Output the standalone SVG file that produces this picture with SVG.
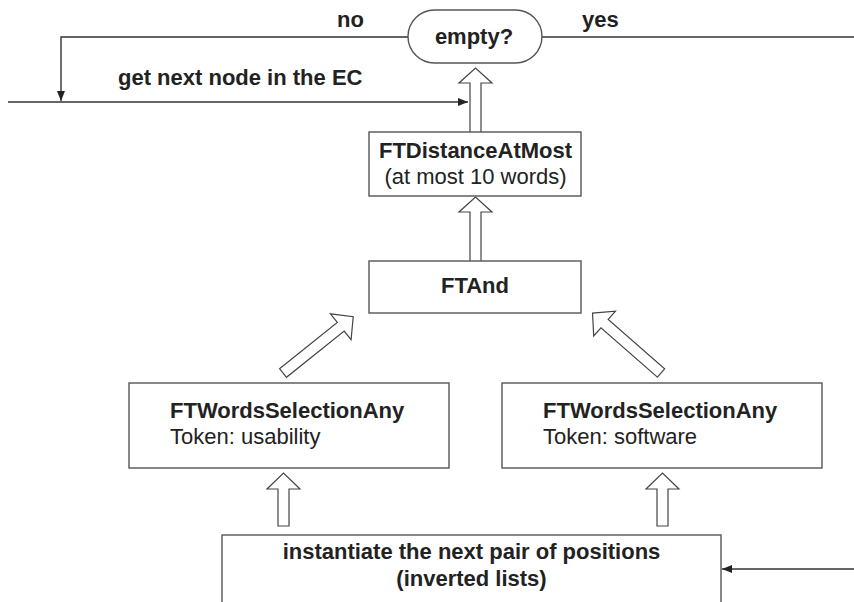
<svg xmlns="http://www.w3.org/2000/svg" width="854" height="602" viewBox="0 0 854 602">
<style>
text{font-family:"Liberation Sans",Arial,sans-serif;font-size:22px;fill:#222}
.b{font-weight:bold}
.m{text-anchor:middle}
.box{fill:#fff;stroke:#555;stroke-width:1.4}
.ln{fill:none;stroke:#333;stroke-width:1.4}
.blk{fill:#fff;stroke:#444;stroke-width:1.2;stroke-linejoin:miter}
</style>
<defs>
<marker id="ah" viewBox="0 0 10 8" refX="10" refY="4" markerWidth="10" markerHeight="8" markerUnits="userSpaceOnUse" orient="auto">
<path d="M0,0 L10,4 L0,8 z" fill="#222"/>
</marker>
</defs>
<rect width="854" height="602" fill="#fff"/>
<g id="connectors">
<polyline class="ln" points="408,37 61,37 61,101" marker-end="url(#ah)"/>
<line class="ln" x1="8" y1="102" x2="468" y2="102" marker-end="url(#ah)"/>
<line class="ln" x1="542" y1="37" x2="854" y2="37"/>
<line class="ln" x1="854" y1="569" x2="722" y2="569" marker-end="url(#ah)"/>
<path class="blk" d="M470,132 V83 H459 L475.5,68 L492,83 H481 V132"/>
<path class="blk" d="M470,261 V212 H459 L475.5,197 L492,212 H481 V261"/>
<path class="blk" transform="translate(283,373) rotate(-38.7)" d="M0,-5.5 H74 V-16.5 L90,0 L74,16.5 V5.5 H0 Z"/>
<path class="blk" transform="translate(661,373) rotate(-138.8)" d="M0,-5.5 H75 V-16.5 L91,0 L75,16.5 V5.5 H0 Z"/>
<path class="blk" d="M278,526 V489 H267 L283.5,473 L300,489 H289 V526 Z"/>
<path class="blk" d="M657,526 V489 H646 L662.5,473 L679,489 H668 V526 Z"/>
</g>
<g id="lbl-no"><text class="b" x="337" y="27">no</text></g>
<g id="lbl-yes"><text class="b" x="582" y="27">yes</text></g>
<g id="lbl-next"><text class="b" x="118" y="85">get next node in the EC</text></g>
<g id="empty">
<rect class="box" x="408" y="10" width="134" height="53" rx="26.5"/>
<text class="b m" x="474" y="44">empty?</text>
</g>
<g id="distance">
<rect class="box" x="369" y="132" width="212" height="64"/>
<text class="b m" x="475.5" y="158">FTDistanceAtMost</text>
<text class="m" x="475.5" y="184">(at most 10 words)</text>
</g>
<g id="and">
<rect class="box" x="369" y="261" width="212" height="52"/>
<text class="b m" x="475" y="293">FTAnd</text>
</g>
<g id="ws1">
<rect class="box" x="129" y="383" width="320" height="85"/>
<text class="b" x="170" y="418">FTWordsSelectionAny</text>
<text x="170" y="444">Token: usability</text>
</g>
<g id="ws2">
<rect class="box" x="502" y="383" width="320" height="85"/>
<text class="b" x="543" y="418">FTWordsSelectionAny</text>
<text x="543" y="444">Token: software</text>
</g>
<g id="inst">
<rect class="box" x="222" y="535" width="499" height="80"/>
<text class="b m" x="471.5" y="559">instantiate the next pair of positions</text>
<text class="b m" x="471.5" y="586">(inverted lists)</text>
</g>
</svg>
